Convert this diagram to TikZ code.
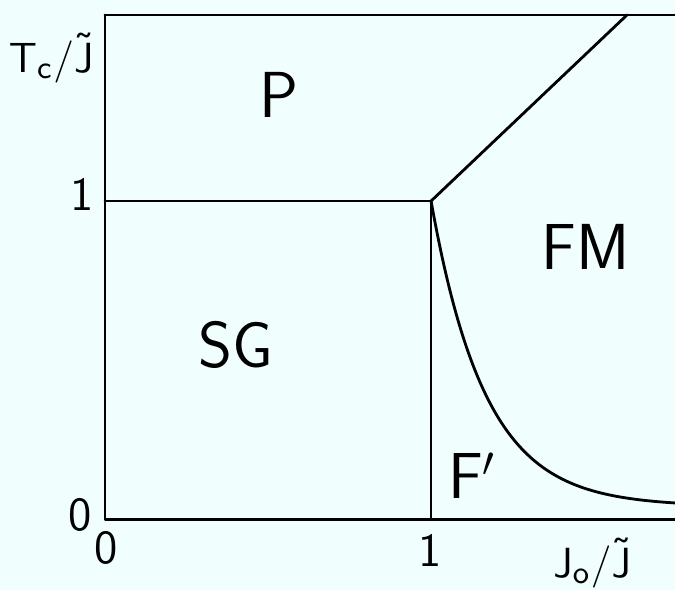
\documentclass[tikz,border=0pt]{standalone}
\usepackage{amsmath}
\usepackage{tikz}
\usetikzlibrary{positioning,calc}
\definecolor{paper}{RGB}{240,254,254}
\newcommand{\Jt}{\tilde{\mathsf{J}}}

\begin{document}
\begin{tikzpicture}[
  x=3.26cm,y=3.18cm,
  boundary/.style={line width=0.8pt,line cap=round,line join=round},
  axislabel/.style={font=\sffamily\fontsize{13}{14}\selectfont,inner sep=0pt},
  ticklabel/.style={font=\sffamily\fontsize{13.5}{14}\selectfont,inner sep=0pt},
  phaselabel/.style={font=\sffamily\fontsize{18.5}{20}\selectfont,inner sep=0pt}
]

% ---- paper and frame of the picture ----
\fill[paper] (-0.322,-0.2233) rectangle (1.748,1.632);
\useasboundingbox (-0.322,-0.2233) rectangle (1.748,1.632);

% ---- corner points of the phase boundaries ----
\coordinate (O)    at (0,0);
\coordinate (Otop) at (0,1.585);
\coordinate (Xend) at (1.748,0);
\coordinate (Tend) at (1.748,1.585);
\coordinate (A)    at (0,1);
\coordinate (M)    at (1,1);
\coordinate (B)    at (1,0);
\coordinate (Dtop) at (1.601,1.585);

% ---- axes and box ----
\draw[boundary] (Otop) -- (O) -- (Xend);
\draw[boundary] (Otop) -- (Tend);

% ---- P / SG and SG / F' lines ----
\draw[boundary] (A) -- (M) -- (B);

% ---- P / FM line ----
\draw[boundary] (M) -- (Dtop);

% ---- FM / F' line ----
\draw[boundary] plot[domain=1:1.748,samples=90,smooth]
  (\x,{0.04+0.96*exp(-6*(\x-1))});

% ---- tick and axis labels ----
\node[axislabel] (ylab) at (-0.165,1.45) {$\mathsf{T_c/\Jt}$};
\node[ticklabel] (y1)   at (-0.0706,1.022) {1};
\node[ticklabel] (y0)   at (-0.0767,0.0126) {0};
\node[ticklabel] (x0)   at (0.003,-0.091) {0};
\node[ticklabel] (x1)   at (0.997,-0.0975) {1};
\node[axislabel,anchor=base] (xlab) at (1.494,-0.182) {$\mathsf{J_o/\Jt}$};

% ---- phases ----
\node[phaselabel] (P)  at (0.534,1.333) {P};
\node[phaselabel] (FM) at (1.475,0.855) {FM};
\node[phaselabel] (SG) at (0.402,0.547) {SG};
\node[phaselabel] (Fp) at (1.126,0.135) {F$'$};

\end{tikzpicture}
\end{document}
